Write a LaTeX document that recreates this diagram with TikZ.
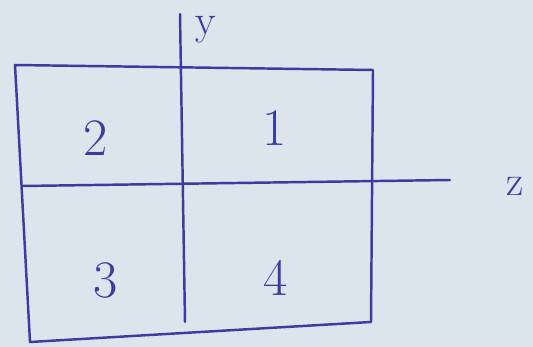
\documentclass[tikz,border=0pt]{standalone}
\usepackage{tikz}
\usetikzlibrary{calc}
\definecolor{paper}{HTML}{DCE4EC}
\definecolor{ink}{HTML}{3C3CA0}

\begin{document}
\begin{tikzpicture}[x=0.02cm,y=-0.02cm,
    stift/.style={draw=ink, line width=1.4pt, line cap=round, line join=round},
    zahl/.style={text=ink, font=\fontsize{30}{30}\selectfont},
    achse/.style={text=ink, font=\fontsize{24}{24}\selectfont}]

% Papier
\fill[paper] (0,0) rectangle (533,347);
\useasboundingbox (0,0) rectangle (533,347);

% Ecken des Rechtecks
\coordinate (lo) at (15,65);
\coordinate (ro) at (373,70);
\coordinate (ru) at (371,322);
\coordinate (lu) at (30,342);

% Rechteck
\draw[stift] (lo) -- (ro) -- (ru) -- (lu) -- cycle;

% Achsen
\coordinate (yo) at (180,14);
\coordinate (yu) at (185,322);
\coordinate (zl) at (22,186);
\coordinate (zr) at (450,180);
\draw[stift] (yo) -- (yu);
\draw[stift] (zl) -- (zr);

% Beschriftung
\node[achse] (y) at (206,30) {y};
\node[achse] (z) at (515,186) {z};

% Quadranten
\node[zahl] (q2) at (96,138) {2};
\node[zahl] (q1) at (275,128) {1};
\node[zahl] (q3) at (106,280) {3};
\node[zahl] (q4) at (276,278) {4};

\end{tikzpicture}
\end{document}
